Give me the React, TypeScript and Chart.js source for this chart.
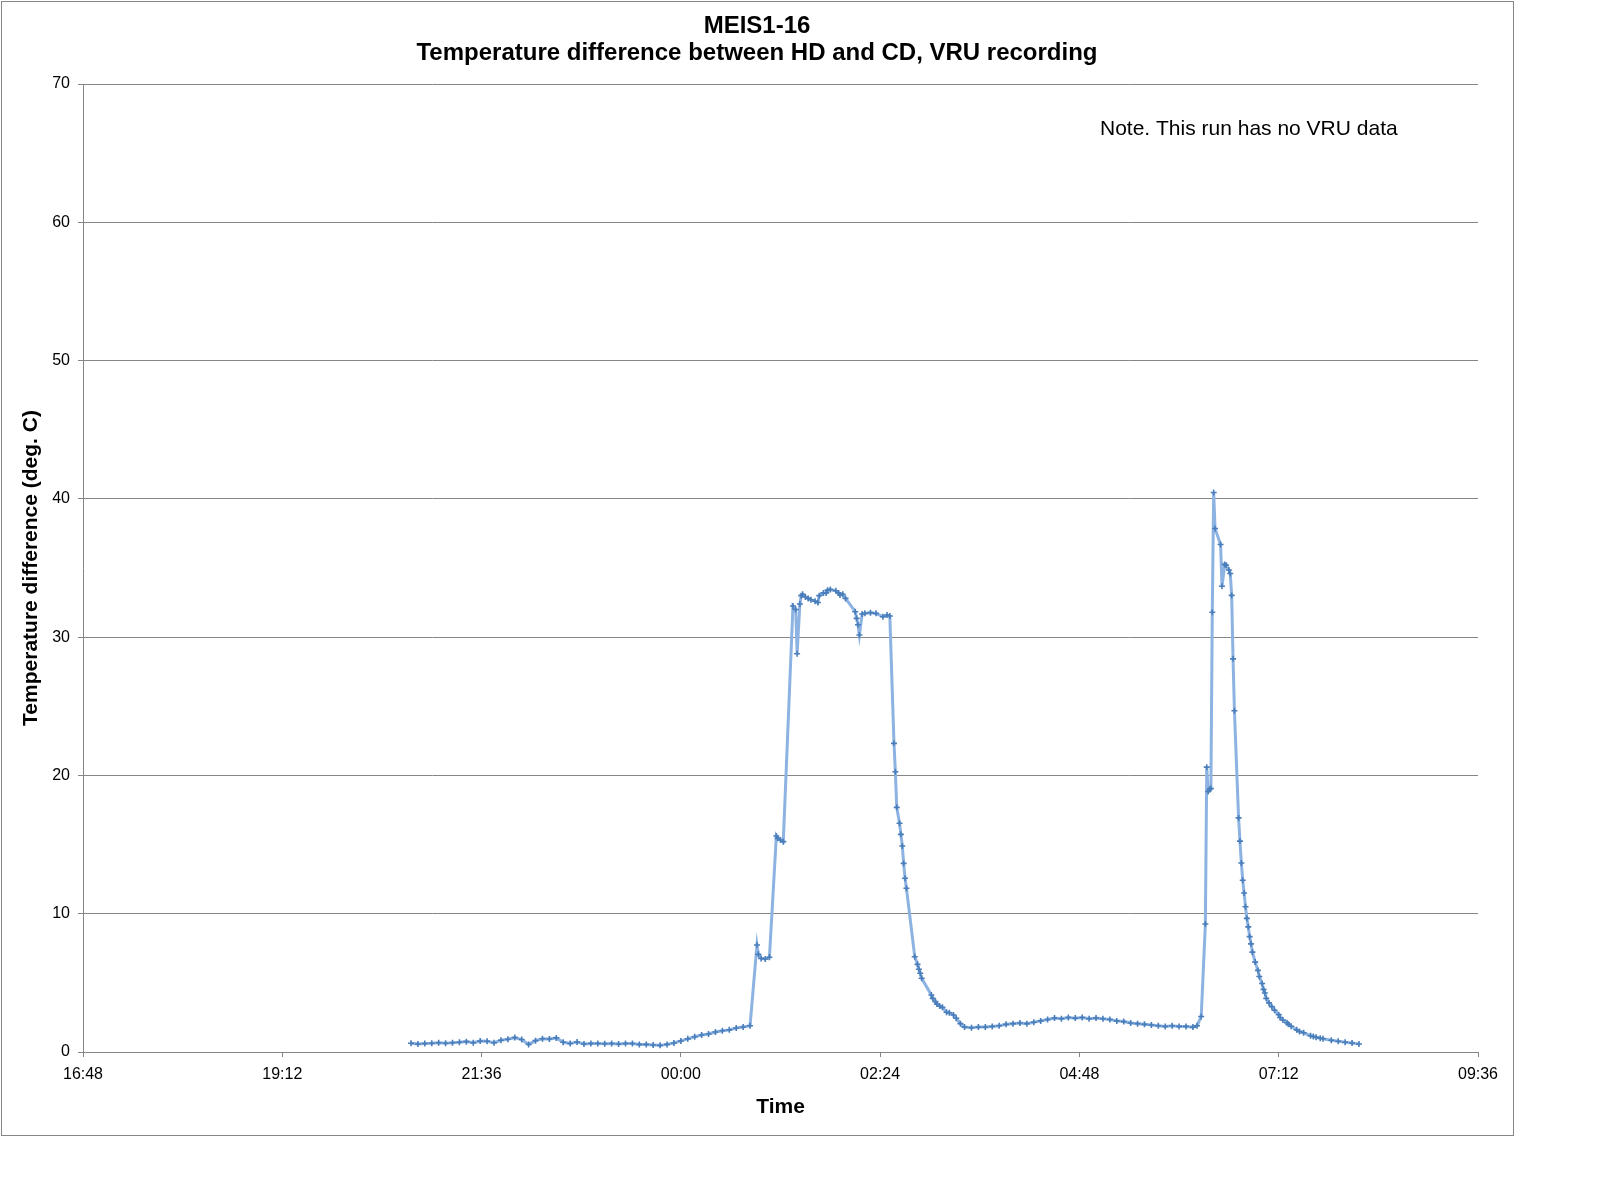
import React, { useEffect, useRef } from 'react';
import { Chart, registerables } from 'chart.js';

Chart.register(...registerables);

const FONT = '"Liberation Sans", Arial, sans-serif';

// axis window: 16:48 -> 09:36 next day, ticks every 2h24m
const axisStart = '16:48';
const axisSpanMin = 1008;
const axisStepMin = 144;
const yMax = 70;
const yStep = 10;

const titleLines = ['MEIS1-16', 'Temperature difference between HD and CD, VRU recording'];
const xTitle = 'Time';
const yTitle = 'Temperature difference (deg. C)';
const noteText = 'Note. This run has no VRU data';

const sampleTimes = [
  '20:45', '20:50', '20:55', '21:00', '21:05', '21:10', '21:15', '21:20', '21:25', '21:30',
  '21:35', '21:40', '21:45', '21:50', '21:55', '22:00', '22:05', '22:10', '22:15', '22:20',
  '22:25', '22:30', '22:35', '22:40', '22:45', '22:50', '22:55', '23:00', '23:05', '23:10',
  '23:15', '23:20', '23:25', '23:30', '23:35', '23:40', '23:45', '23:50', '23:55', '00:00',
  '00:05', '00:10', '00:15', '00:20', '00:25', '00:30', '00:35', '00:40', '00:45', '00:50',
  '00:55', '00:56', '00:58', '01:01', '01:04', '01:09', '01:10', '01:12', '01:14', '01:21',
  '01:23', '01:24', '01:26', '01:27', '01:28', '01:30', '01:32', '01:34', '01:37', '01:39',
  '01:40', '01:43', '01:45', '01:46', '01:48', '01:52', '01:54', '01:55', '01:57', '01:59',
  '02:06', '02:07', '02:08', '02:09', '02:11', '02:13', '02:17', '02:21', '02:26', '02:29',
  '02:31', '02:34', '02:35', '02:36', '02:38', '02:39', '02:40', '02:41', '02:42', '02:43',
  '02:49', '02:51', '02:52', '02:53', '02:54', '03:01', '03:02', '03:04', '03:05', '03:07',
  '03:09', '03:12', '03:14', '03:17', '03:19', '03:22', '03:25', '03:30', '03:35', '03:40',
  '03:45', '03:50', '03:55', '04:00', '04:05', '04:10', '04:15', '04:20', '04:25', '04:30',
  '04:35', '04:40', '04:45', '04:50', '04:55', '05:00', '05:05', '05:10', '05:15', '05:20',
  '05:25', '05:30', '05:35', '05:40', '05:45', '05:50', '05:55', '06:00', '06:05', '06:10',
  '06:13', '06:16', '06:19', '06:20', '06:21', '06:22', '06:23', '06:24', '06:25', '06:26',
  '06:30', '06:31', '06:33', '06:34', '06:36', '06:37', '06:38', '06:39', '06:40', '06:43',
  '06:44', '06:45', '06:46', '06:47', '06:48', '06:49', '06:50', '06:51', '06:52', '06:53',
  '06:55', '06:57', '06:58', '07:00', '07:01', '07:02', '07:03', '07:05', '07:07', '07:09',
  '07:12', '07:13', '07:15', '07:18', '07:19', '07:21', '07:25', '07:27', '07:30', '07:35',
  '07:37', '07:39', '07:42', '07:44', '07:50', '07:55', '08:00', '08:05', '08:10',
];

const tempDiff = [
  0.63, 0.58, 0.62, 0.63, 0.67, 0.63, 0.67, 0.70, 0.75, 0.67,
  0.80, 0.78, 0.67, 0.85, 0.92, 1.04, 0.90, 0.55, 0.82, 0.96,
  0.94, 1.02, 0.70, 0.62, 0.72, 0.58, 0.62, 0.62, 0.60, 0.62,
  0.58, 0.62, 0.62, 0.55, 0.55, 0.51, 0.48, 0.55, 0.65, 0.80,
  0.95, 1.10, 1.23, 1.30, 1.45, 1.54, 1.60, 1.74, 1.81, 1.90,
  7.74, 7.06, 6.77, 6.72, 6.85, 15.62, 15.45, 15.33, 15.21, 32.25,
  32.00, 28.80, 32.40, 33.00, 33.10, 32.90, 32.80, 32.70, 32.60, 32.50,
  33.00, 33.20, 33.20, 33.40, 33.45, 33.35, 33.20, 33.05, 33.10, 32.80,
  31.84, 31.36, 30.90, 30.15, 31.67, 31.72, 31.77, 31.72, 31.48, 31.60,
  31.53, 22.32, 20.27, 17.69, 16.54, 15.74, 14.90, 13.64, 12.56, 11.84,
  6.89, 6.34, 5.98, 5.69, 5.33, 4.12, 3.88, 3.64, 3.47, 3.33,
  3.23, 2.87, 2.84, 2.68, 2.44, 2.05, 1.80, 1.75, 1.80, 1.80,
  1.85, 1.90, 2.00, 2.05, 2.10, 2.05, 2.15, 2.25, 2.35, 2.45,
  2.40, 2.50, 2.45, 2.50, 2.40, 2.45, 2.40, 2.35, 2.25, 2.20,
  2.10, 2.05, 2.00, 1.95, 1.90, 1.85, 1.90, 1.85, 1.85, 1.80,
  1.90, 2.57, 9.26, 20.60, 18.84, 18.98, 19.05, 31.80, 40.46, 37.86,
  36.70, 33.68, 35.26, 35.20, 34.86, 34.60, 33.02, 28.43, 24.68, 16.93,
  15.25, 13.67, 12.42, 11.50, 10.50, 9.66, 9.05, 8.34, 7.82, 7.22,
  6.50, 5.90, 5.46, 4.95, 4.53, 4.27, 3.88, 3.55, 3.28, 3.02,
  2.70, 2.50, 2.31, 2.12, 2.00, 1.86, 1.60, 1.48, 1.39, 1.18,
  1.12, 1.07, 1.00, 0.96, 0.85, 0.78, 0.70, 0.65, 0.58,
];

const toMin = (t: string) => {
  const [h, m] = t.split(':').map(Number);
  return h * 60 + m;
};

const startMin = toMin(axisStart);

// minutes since the left edge of the axis (times before the start belong to the next day)
const offsetOf = (t: string) => {
  let v = toMin(t) - startMin;
  if (v < 0) v += 1440;
  return v;
};

const fmtTick = (v: number) => {
  const total = Math.round(startMin + v) % 1440;
  const h = Math.floor(total / 60);
  const m = total % 60;
  return String(h).padStart(2, '0') + ':' + String(m).padStart(2, '0');
};

const textPlugin = {
  id: 'excelText',
  afterDraw(chart: Chart) {
    const ctx = chart.ctx;
    const area = chart.chartArea;
    ctx.save();

    // outer chart frame
    ctx.strokeStyle = '#868686';
    ctx.lineWidth = 1;
    ctx.strokeRect(1.5, 1.5, 1512, 1134);

    ctx.fillStyle = '#000';
    ctx.textBaseline = 'middle';
    ctx.textAlign = 'center';
    ctx.font = 'bold 24px ' + FONT;
    ctx.fillText(titleLines[0], 757, 26);
    ctx.fillText(titleLines[1], 757, 53);

    ctx.font = 'bold 21px ' + FONT;
    ctx.fillText(xTitle, (area.left + area.right) / 2, 1107);

    ctx.save();
    ctx.translate(31, (area.top + area.bottom) / 2);
    ctx.rotate(-Math.PI / 2);
    ctx.fillText(yTitle, 0, 0);
    ctx.restore();

    ctx.font = '21px ' + FONT;
    ctx.textAlign = 'left';
    ctx.fillText(noteText, 1100, 129);

    ctx.restore();
  },
};

const App: React.FC = () => {
  const canvasRef = useRef<HTMLCanvasElement | null>(null);
  const chartRef = useRef<Chart | null>(null);

  useEffect(() => {
    document.body.style.margin = '0';
    if (!canvasRef.current) return;
    if (chartRef.current) chartRef.current.destroy();

    const points = sampleTimes.map((t, i) => ({ x: offsetOf(t), y: tempDiff[i] }));

    chartRef.current = new Chart(canvasRef.current, {
      type: 'line',
      data: {
        datasets: [
          {
            label: 'Temperature difference',
            data: points,
            borderColor: '#8DB3E2',
            borderWidth: 3,
            tension: 0,
            pointStyle: 'cross',
            pointRadius: 3,
            pointBorderWidth: 1.6,
            pointBorderColor: '#4A7EBB',
            pointBackgroundColor: '#4A7EBB',
          },
        ],
      },
      options: {
        responsive: false,
        animation: false,
        devicePixelRatio: 1,
        layout: { padding: { left: 0, top: 84, right: 120, bottom: 100 } },
        plugins: {
          legend: { display: false },
          title: { display: false },
          tooltip: { enabled: false },
        },
        scales: {
          x: {
            type: 'linear',
            min: 0,
            max: axisSpanMin,
            afterFit: (scale: any) => {
              scale.height = 50;
            },
            border: { display: true, color: '#868686', width: 1 },
            grid: {
              drawOnChartArea: false,
              drawTicks: true,
              tickLength: 5,
              color: '#868686',
            },
            ticks: {
              stepSize: axisStepMin,
              autoSkip: false,
              maxRotation: 0,
              padding: 8,
              color: '#000',
              font: { family: FONT, size: 16 },
              callback: (v: any) => fmtTick(Number(v)),
            },
          },
          y: {
            min: 0,
            max: yMax,
            afterFit: (scale: any) => {
              scale.width = 83;
            },
            border: { display: true, color: '#868686', width: 1 },
            grid: {
              drawOnChartArea: true,
              drawTicks: true,
              tickLength: 5,
              color: '#868686',
            },
            ticks: {
              stepSize: yStep,
              padding: 8,
              color: '#000',
              font: { family: FONT, size: 16 },
            },
          },
        },
      },
      plugins: [textPlugin],
    });

    return () => {
      if (chartRef.current) {
        chartRef.current.destroy();
        chartRef.current = null;
      }
    };
  }, []);

  return (
    <div style={{ position: 'absolute', left: 0, top: 0, width: 1598, height: 1202, background: '#fff' }}>
      <canvas ref={canvasRef} width={1598} height={1202} />
    </div>
  );
};

export default App;
